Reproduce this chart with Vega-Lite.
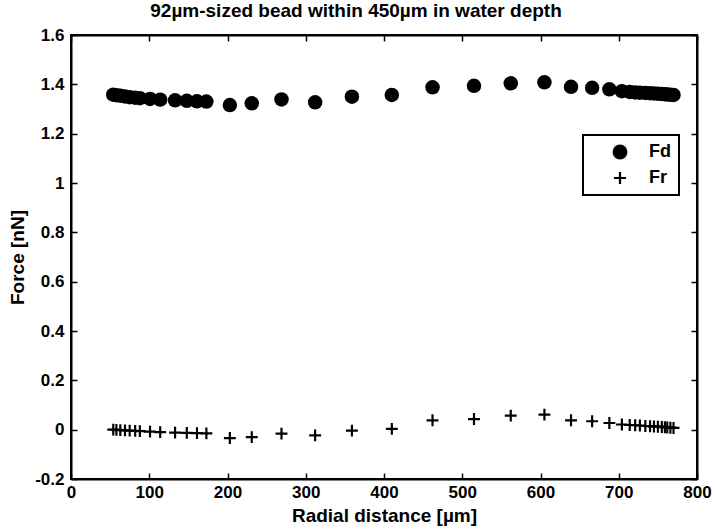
{
  "$schema": "https://vega.github.io/schema/vega-lite/v6.json",
  "width": 626,
  "height": 444,
  "autosize": {"type": "none"},
  "padding": {"left": 71, "top": 35, "right": 18, "bottom": 50},
  "background": "white",
  "title": {"text": "92µm-sized bead within 450µm in water depth", "font": "Liberation Sans", "fontSize": 19, "fontWeight": "bold", "color": "black", "offset": 5, "dx": -28},
  "data": {"values": [
    {"r": 54, "s": "Fd", "f": 1.358}, {"r": 58, "s": "Fd", "f": 1.356}, {"r": 63, "s": "Fd", "f": 1.354}, {"r": 69, "s": "Fd", "f": 1.351},
    {"r": 75, "s": "Fd", "f": 1.348}, {"r": 82, "s": "Fd", "f": 1.346}, {"r": 88, "s": "Fd", "f": 1.344}, {"r": 101, "s": "Fd", "f": 1.341},
    {"r": 114, "s": "Fd", "f": 1.338}, {"r": 133, "s": "Fd", "f": 1.335}, {"r": 148, "s": "Fd", "f": 1.333}, {"r": 161, "s": "Fd", "f": 1.331},
    {"r": 173, "s": "Fd", "f": 1.330}, {"r": 203, "s": "Fd", "f": 1.316}, {"r": 231, "s": "Fd", "f": 1.323}, {"r": 269, "s": "Fd", "f": 1.339},
    {"r": 312, "s": "Fd", "f": 1.327}, {"r": 359, "s": "Fd", "f": 1.350}, {"r": 410, "s": "Fd", "f": 1.357}, {"r": 462, "s": "Fd", "f": 1.388},
    {"r": 515, "s": "Fd", "f": 1.394}, {"r": 562, "s": "Fd", "f": 1.404}, {"r": 605, "s": "Fd", "f": 1.408}, {"r": 639, "s": "Fd", "f": 1.390},
    {"r": 666, "s": "Fd", "f": 1.386}, {"r": 688, "s": "Fd", "f": 1.380}, {"r": 704, "s": "Fd", "f": 1.372}, {"r": 714, "s": "Fd", "f": 1.369},
    {"r": 721, "s": "Fd", "f": 1.367}, {"r": 727, "s": "Fd", "f": 1.366}, {"r": 734, "s": "Fd", "f": 1.365}, {"r": 740, "s": "Fd", "f": 1.364},
    {"r": 745, "s": "Fd", "f": 1.363}, {"r": 750, "s": "Fd", "f": 1.362}, {"r": 755, "s": "Fd", "f": 1.361}, {"r": 759, "s": "Fd", "f": 1.360},
    {"r": 762, "s": "Fd", "f": 1.359}, {"r": 766, "s": "Fd", "f": 1.358}, {"r": 770, "s": "Fd", "f": 1.357},
    {"r": 54, "s": "Fr", "f": 0.000}, {"r": 58, "s": "Fr", "f": -0.001}, {"r": 63, "s": "Fr", "f": -0.002}, {"r": 69, "s": "Fr", "f": -0.003},
    {"r": 75, "s": "Fr", "f": -0.004}, {"r": 82, "s": "Fr", "f": -0.005}, {"r": 88, "s": "Fr", "f": -0.006}, {"r": 101, "s": "Fr", "f": -0.008},
    {"r": 114, "s": "Fr", "f": -0.010}, {"r": 133, "s": "Fr", "f": -0.012}, {"r": 148, "s": "Fr", "f": -0.013}, {"r": 161, "s": "Fr", "f": -0.014},
    {"r": 173, "s": "Fr", "f": -0.015}, {"r": 203, "s": "Fr", "f": -0.034}, {"r": 231, "s": "Fr", "f": -0.030}, {"r": 269, "s": "Fr", "f": -0.016},
    {"r": 312, "s": "Fr", "f": -0.023}, {"r": 359, "s": "Fr", "f": -0.004}, {"r": 410, "s": "Fr", "f": 0.003}, {"r": 462, "s": "Fr", "f": 0.038},
    {"r": 515, "s": "Fr", "f": 0.043}, {"r": 562, "s": "Fr", "f": 0.057}, {"r": 605, "s": "Fr", "f": 0.061}, {"r": 639, "s": "Fr", "f": 0.038},
    {"r": 666, "s": "Fr", "f": 0.034}, {"r": 688, "s": "Fr", "f": 0.027}, {"r": 704, "s": "Fr", "f": 0.021}, {"r": 714, "s": "Fr", "f": 0.019},
    {"r": 721, "s": "Fr", "f": 0.018}, {"r": 727, "s": "Fr", "f": 0.017}, {"r": 734, "s": "Fr", "f": 0.015}, {"r": 740, "s": "Fr", "f": 0.014},
    {"r": 745, "s": "Fr", "f": 0.013}, {"r": 750, "s": "Fr", "f": 0.012}, {"r": 755, "s": "Fr", "f": 0.011}, {"r": 759, "s": "Fr", "f": 0.010},
    {"r": 762, "s": "Fr", "f": 0.009}, {"r": 766, "s": "Fr", "f": 0.008}, {"r": 770, "s": "Fr", "f": 0.007}
  ]},
  "layer": [
    {
      "mark": {"type": "point", "filled": true, "opacity": 1, "size": 210, "color": "black"},
      "encoding": {
        "x": {"field": "r", "type": "quantitative", "scale": {"domain": [0, 800], "nice": false},
              "axis": {"values": [0, 100, 200, 300, 400, 500, 600, 700, 800], "title": "Radial distance [µm]", "titlePadding": 6, "labelPadding": 11, "labelFlush": false}},
        "y": {"field": "f", "type": "quantitative", "scale": {"domain": [-0.2, 1.6], "nice": false, "zero": false},
              "axis": {"values": [-0.2, 0, 0.2, 0.4, 0.6, 0.8, 1, 1.2, 1.4, 1.6], "title": "Force [nN]", "titlePadding": 7, "labelPadding": 13,
                       "labelExpr": "replace(format(datum.value, '~g'), '\u2212', '-')"}},
        "shape": {"field": "s", "type": "nominal",
                  "scale": {"domain": ["Fd", "Fr"], "range": ["circle", "M-0.82,-0.15H0.82V0.15H-0.82Z M-0.15,-0.82H0.15V0.82H-0.15Z"]},
                  "legend": {"title": null, "orient": "none", "legendX": 512, "legendY": 100, "symbolSize": 220,
                             "padding": 8, "symbolOffset": 20, "labelOffset": 20, "rowPadding": 8,
                             "strokeColor": "black", "fillColor": "white",
                             "labelFont": "Liberation Sans", "labelFontSize": 18, "labelFontWeight": "bold", "labelColor": "black",
                             "symbolFillColor": "black", "symbolStrokeWidth": 0}}
      }
    },
    {
      "mark": {"type": "point", "opacity": 0},
      "encoding": {
        "x": {"field": "r", "type": "quantitative", "scale": {"domain": [0, 800], "nice": false}, "axis": {"orient": "top", "labels": false, "title": null, "values": [0, 100, 200, 300, 400, 500, 600, 700, 800]}},
        "y": {"field": "f", "type": "quantitative", "scale": {"domain": [-0.2, 1.6], "nice": false, "zero": false}, "axis": {"orient": "right", "labels": false, "title": null, "values": [-0.2, 0, 0.2, 0.4, 0.6, 0.8, 1, 1.2, 1.4, 1.6]}}
      }
    }
  ],
  "resolve": {"axis": {"x": "independent", "y": "independent"}},
  "config": {
    "view": {"stroke": "black", "strokeWidth": 2},
    "axis": {"grid": false, "domainColor": "black", "domainWidth": 2, "tickColor": "black", "tickWidth": 1.5, "tickSize": -6,
             "labelColor": "black", "labelFont": "Liberation Sans", "labelFontSize": 17, "labelFontWeight": "bold",
             "titleColor": "black", "titleFont": "Liberation Sans", "titleFontSize": 19, "titleFontWeight": "bold"},
    "legend": {"strokeWidth": 2}
  }
}
